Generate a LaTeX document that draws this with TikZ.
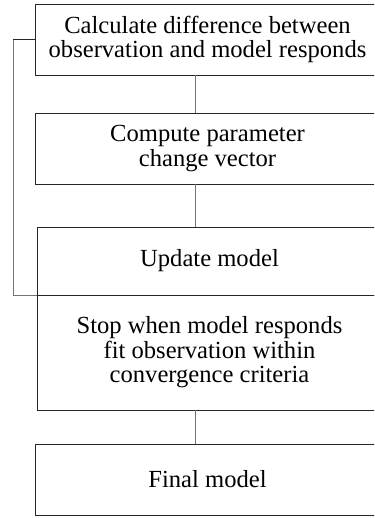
\documentclass[tikz,border=0pt]{standalone}
\usepackage{fontspec}
\setmainfont{Liberation Serif}
\usepackage{tikz}
\usetikzlibrary{positioning, calc}

\begin{document}
\begin{tikzpicture}[x=1pt, y=-1pt,
    box/.style={draw=black!85, line width=0.8pt, minimum width=345pt, align=center, inner sep=0pt, font=\fontsize{24.6}{24.5}\selectfont},
    link/.style={draw=black!55, line width=0.8pt}]
                        \useasboundingbox (0,0) rectangle (374,518);
                        \clip (0,0) rectangle (374,518);
                        %\draw[style=help lines] (0,0) grid[step=50] (374,518);
                        \node[box, minimum height=71pt] (diff) at (207.5,39.5) {Calculate difference between\\observation and model responds};
                        \node[box, minimum height=71pt] (change) at (207.5,148.5) {Compute parameter\\change vector};
                        \node[box, minimum height=68pt] (update) at (209.5,261) {Update model};
                        \node[box, minimum height=115pt] (stop) at (209.5,352.5) {Stop when model responds\\fit observation within\\convergence criteria};
                        \node[box, minimum height=71pt] (final) at (207.5,479.5) {Final model};
                        \coordinate (axis) at (195,0);
                        \coordinate (back) at (13,0);
                        \draw[link] (diff.south -| axis) -- (change.north -| axis) (change.south -| axis) -- (update.north -| axis) (stop.south -| axis) -- (final.north -| axis);
                        \draw[link] (update.south west) -- (update.south west -| back) -- (diff.west -| back);
                        \draw[draw=black!85, line width=0.8pt] (diff.west -| back) -- (diff.west);
                    \end{tikzpicture}
\end{document}
